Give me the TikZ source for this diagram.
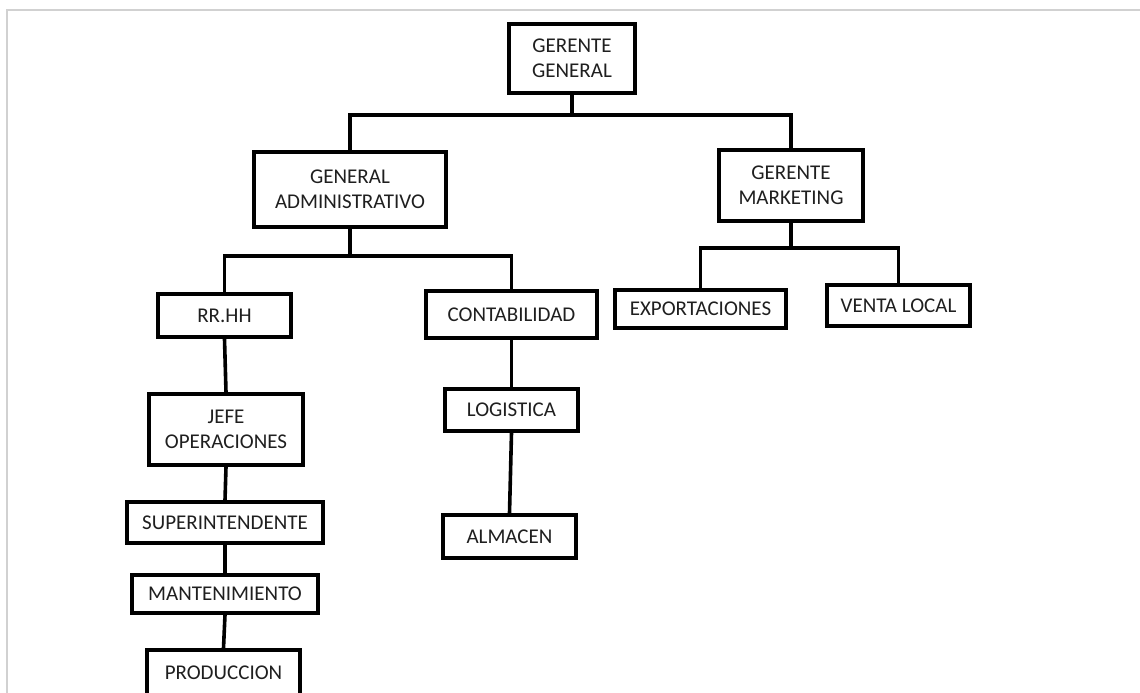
\documentclass[tikz,border=0pt]{standalone}
\usepackage{fontspec}
\setmainfont{Carlito}
\begin{document}
\begin{tikzpicture}[x=1pt,y=-1pt,
  orgbox/.style={draw=black, line width=3.6pt, fill=white, inner sep=2pt,
    align=center, text=black!88, font=\fontsize{21}{25}\selectfont},
  link/.style={draw=black, line width=3.6pt, line join=miter}]
  \useasboundingbox (0,0) rectangle (1140,693);
  \fill[white] (0,0) rectangle (1140,693);
  % light page frame
  \draw[black!18, line width=1.4pt] (7,693) -- (7,10) -- (1140,10);

  % boxes
  \node[orgbox, minimum width=126pt, minimum height=69pt] (gg)   at (572,58.5)  {GERENTE\\GENERAL};
  \node[orgbox, minimum width=192pt, minimum height=75pt] (ga)   at (350,189.5) {GENERAL\\ADMINISTRATIVO};
  \node[orgbox, minimum width=144pt, minimum height=71pt] (gm)   at (791,185.5) {GERENTE\\MARKETING};
  \node[orgbox, minimum width=133pt, minimum height=43pt] (rrhh) at (224.5,315.5) {RR.HH};
  \node[orgbox, minimum width=171pt, minimum height=47pt] (cont) at (511.5,314.5) {CONTABILIDAD};
  \node[orgbox, minimum width=171pt, minimum height=38pt] (expo) at (700.5,309) {EXPORTACIONES};
  \node[orgbox, minimum width=143pt, minimum height=41pt] (vl)   at (898.5,305.5) {VENTA LOCAL};
  \node[orgbox, minimum width=154pt, minimum height=71pt] (jefe) at (226,429.5) {JEFE\\OPERACIONES};
  \node[orgbox, minimum width=196pt, minimum height=41pt] (sup)  at (225,522.5) {SUPERINTENDENTE};
  \node[orgbox, minimum width=186pt, minimum height=38pt] (mant) at (225,594)   {MANTENIMIENTO};
  \node[orgbox, minimum width=153pt, minimum height=46pt] (prod) at (223.5,673) {PRODUCCION};
  \node[orgbox, minimum width=133pt, minimum height=42pt] (logi) at (511.5,410) {LOGISTICA};
  \node[orgbox, minimum width=133pt, minimum height=43pt] (alm)  at (509.5,536.5) {ALMACEN};

  % branching points
  \coordinate (b1) at (572,115);
  \coordinate (b2) at (350,256);
  \coordinate (b3) at (791,248);

  % connectors
  \draw[link] (gg.south) -- (b1);
  \draw[link] (ga.north) |- (b1) -| (gm.north);
  \draw[link] (ga.south) -- (b2);
  \draw[link] (rrhh.north) |- (b2) -| (cont.north);
  \draw[link] (gm.south) -- (b3);
  \draw[link] (expo.north) |- (b3) -| (vl.north);
  \draw[link] (rrhh.south) -- (jefe.north);
  \draw[link] (jefe.south) -- (sup.north);
  \draw[link] (sup.south) -- (mant.north);
  \draw[link] (mant.south) -- (prod.north);
  \draw[link] (cont.south) -- (logi.north);
  \draw[link] (logi.south) -- (alm.north);
\end{tikzpicture}
\end{document}
